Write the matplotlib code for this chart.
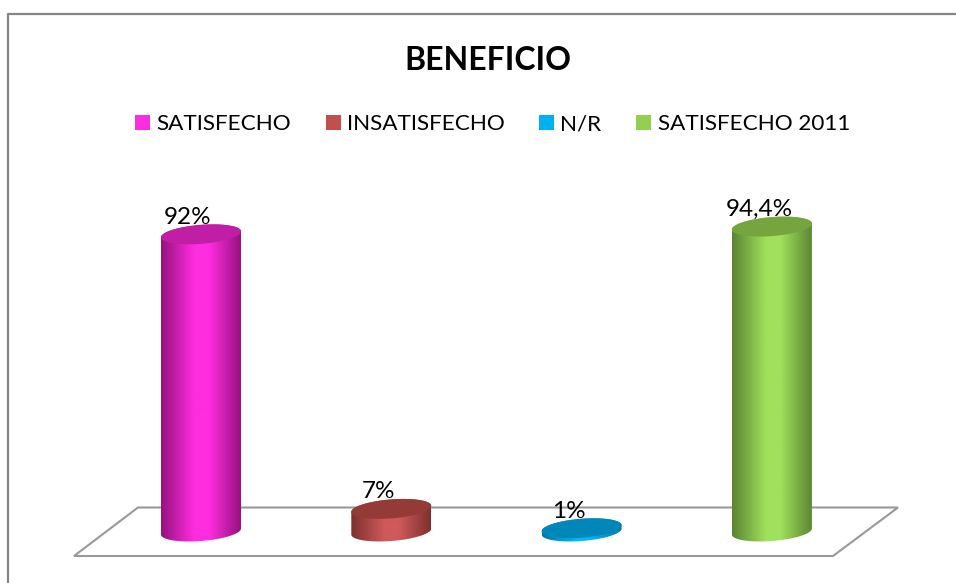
import numpy as np
import matplotlib
matplotlib.use("Agg")
import matplotlib.pyplot as plt
from matplotlib.colors import LinearSegmentedColormap
from matplotlib.lines import Line2D
from matplotlib.patches import Patch, Polygon
from matplotlib.transforms import Affine2D

plt.rcParams['font.family'] = ['Lato', 'DejaVu Sans']

# data
categories = ["SATISFECHO", "INSATISFECHO", "N/R", "SATISFECHO 2011"]
values = [92, 7, 1, 94.4]
value_labels = ["92%", "7%", "1%", "94,4%"]

# edge, centre, lid
edge_colors = ["#96127f", "#7d302e", "#0077a8", "#5b8533"]
mid_colors = ["#ff2de0", "#d0595a", "#00b8f5", "#a0e05c"]
lid_colors = ["#c01fa5", "#943b38", "#0087ba", "#76a540"]
legend_colors = ["#ff2de0", "#c0504d", "#00b0f0", "#92d050"]

W, H = 956, 583
X0, DX = 201, 190.3    # pixel of first bar, pixels between bars
Y0, DY = 531.5, 3.23  # pixel of 0 %, pixels per 1 %

fig = plt.figure(figsize=(W / 100, H / 100), dpi=100, facecolor="white")
ax = fig.add_axes([0, 0, 1, 1])
ax.axis("off")
ax.set_xlim((0 - X0) / DX, (W - X0) / DX)
ax.set_ylim((Y0 - H) / DY, Y0 / DY)
ax.set_autoscale_on(False)

# helper for things placed in image pixels (y going down)
px = Affine2D().scale(1, -1).translate(0, H)

# chart frame, only left and top show up
fig.add_artist(Line2D([8, 8, 956], [583, 14, 14], transform=px, color="#868686", lw=1.6))

# floor
ax.add_patch(Polygon([(74, 556), (138, 507.5), (898, 507.5), (833, 556)], closed=True,
                     transform=px, fc="white", ec="#999999", lw=1.5, zorder=1))

# cylinders
hw = 40 / DX
b = 9.5 / DY
tilt = 3 / DY
t = np.linspace(0, 2 * np.pi, 181)
ell_x = hw * np.cos(t)
ell_y = b * np.sin(t) + tilt * np.cos(t)
upper = t <= np.pi
lower = t >= np.pi

for i, v in enumerate(values):
    cmap = LinearSegmentedColormap.from_list(
        "c", [(0, edge_colors[i]), (0.42, mid_colors[i]), (0.6, mid_colors[i]), (1, edge_colors[i])])
    body = np.column_stack([
        np.r_[i + ell_x[upper], i + ell_x[lower]],
        np.r_[v + ell_y[upper], 0 + ell_y[lower]],
    ])
    clip = Polygon(body, closed=True, transform=ax.transData, fc="none", ec="none")
    ax.add_patch(clip)
    im = ax.imshow(np.linspace(0, 1, 160)[None, :], cmap=cmap, aspect="auto",
                   extent=(i - hw, i + hw, -b - tilt, v + b + tilt), zorder=2)
    im.set_clip_path(clip)
    ax.fill(i + ell_x, v + ell_y, color=lid_colors[i], lw=0, zorder=3)
    ax.annotate(value_labels[i], (i, v), xytext=(-13 * 0.72, 17 * 0.72),
                textcoords="offset points", ha="center", va="center",
                fontsize=17.5, color="black", zorder=4)

ax.text(488 / W, 1 - 60 / H, "BENEFICIO", transform=ax.transAxes, ha="center", va="center",
        fontsize=23, fontweight="bold", color="black")

handles = [Patch(fc=c, ec="none") for c in legend_colors]
leg = ax.legend(handles, categories, ncol=4, frameon=False, fontsize=16.2,
                loc="center", bbox_to_anchor=(492.5 / W, 1 - 124.5 / H),
                handlelength=0.667, handleheight=0.667, handletextpad=0.27,
                columnspacing=1.55, borderpad=0, borderaxespad=0)

fig.savefig("out.png", dpi=100)
